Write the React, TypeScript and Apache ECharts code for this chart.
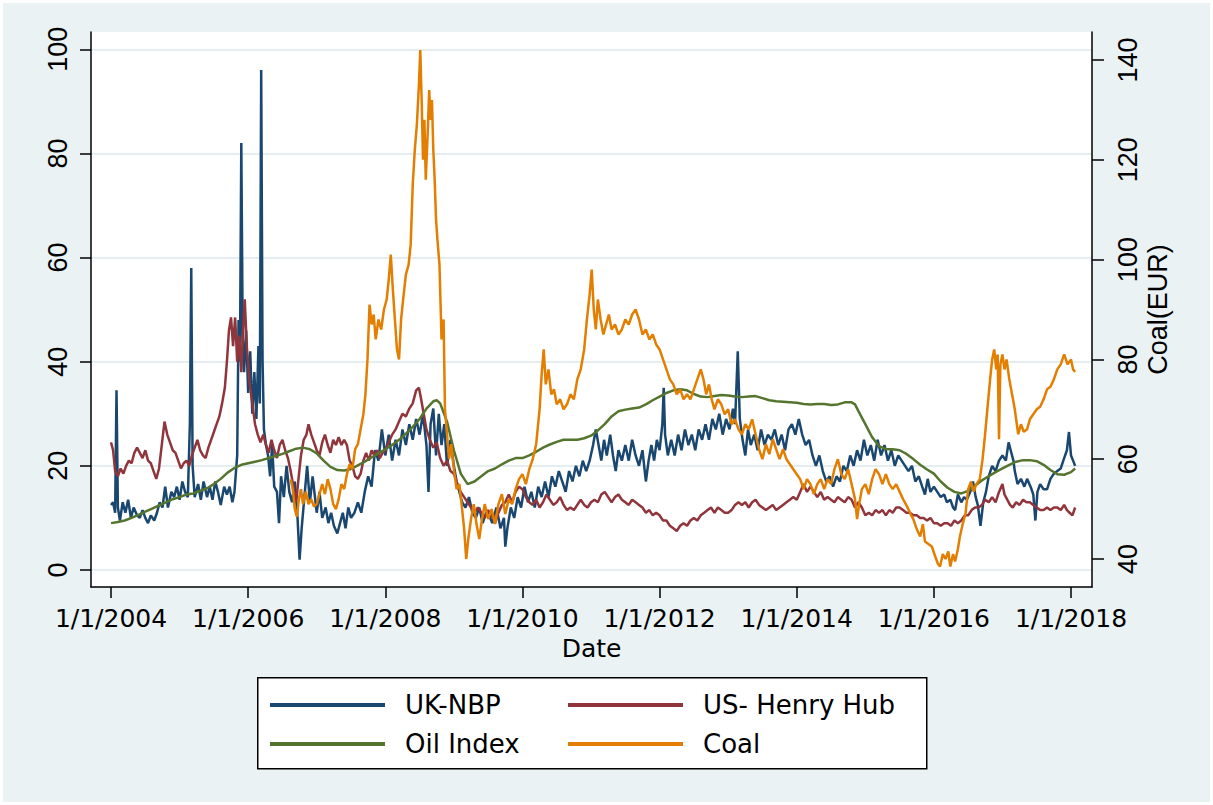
import React, { useEffect, useRef } from "react";
import * as echarts from "echarts";

const xTickYears = [2004, 2006, 2008, 2010, 2012, 2014, 2016, 2018];
const leftTicks = [0, 20, 40, 60, 80, 100];
const rightTicks = [40, 60, 80, 100, 120, 140];
const seriesNames = ["UK-NBP", "US- Henry Hub", "Oil Index", "Coal"];

const ukNbp: [number, number][] = [
  [2004.0, 12.5], [2004.03, 13], [2004.06, 11], [2004.08, 34.5], [2004.1, 12], [2004.13, 9.5], [2004.17, 13], [2004.21, 11],
  [2004.25, 13.5], [2004.29, 10], [2004.33, 12], [2004.38, 10.5], [2004.42, 10], [2004.46, 11.5], [2004.5, 10], [2004.54, 9],
  [2004.58, 10.5], [2004.63, 9.5], [2004.67, 11], [2004.71, 13], [2004.75, 12], [2004.79, 16], [2004.83, 12], [2004.88, 15],
  [2004.92, 14], [2004.96, 16], [2005.0, 13.5], [2005.04, 17], [2005.08, 15], [2005.12, 14], [2005.15, 28], [2005.17, 58],
  [2005.19, 20], [2005.22, 14], [2005.27, 16.5], [2005.31, 13.5], [2005.35, 17], [2005.4, 14], [2005.44, 16], [2005.48, 13.5],
  [2005.52, 17], [2005.56, 15], [2005.6, 12.5], [2005.65, 16], [2005.69, 14.5], [2005.73, 16], [2005.77, 13], [2005.8, 15],
  [2005.84, 22], [2005.86, 48], [2005.88, 40], [2005.9, 82], [2005.92, 45], [2005.94, 38], [2005.97, 46], [2006.0, 34],
  [2006.03, 42], [2006.06, 30], [2006.09, 38], [2006.12, 29], [2006.15, 43], [2006.17, 32], [2006.19, 96], [2006.21, 40],
  [2006.23, 27], [2006.26, 24], [2006.29, 22], [2006.32, 18], [2006.35, 24], [2006.38, 16], [2006.42, 15], [2006.45, 9],
  [2006.48, 18], [2006.52, 14], [2006.56, 20], [2006.6, 15], [2006.64, 13], [2006.68, 17], [2006.72, 10], [2006.75, 2],
  [2006.78, 8], [2006.82, 14], [2006.86, 20], [2006.9, 13], [2006.94, 18], [2007.0, 11], [2007.04, 15], [2007.08, 10],
  [2007.13, 12], [2007.17, 9], [2007.21, 11], [2007.25, 8.5], [2007.3, 7], [2007.34, 9], [2007.38, 11], [2007.42, 8],
  [2007.46, 12], [2007.5, 10], [2007.55, 11], [2007.6, 13], [2007.65, 11], [2007.7, 15], [2007.75, 18], [2007.8, 16],
  [2007.85, 23], [2007.9, 21], [2007.95, 27], [2008.0, 22], [2008.05, 26], [2008.1, 21], [2008.15, 25], [2008.2, 22],
  [2008.25, 27], [2008.3, 24], [2008.35, 28], [2008.4, 25], [2008.45, 29], [2008.5, 26], [2008.55, 30], [2008.6, 24],
  [2008.63, 15], [2008.66, 28], [2008.7, 31], [2008.74, 22], [2008.78, 30], [2008.82, 24], [2008.86, 28], [2008.9, 20],
  [2008.95, 25], [2009.0, 20], [2009.04, 17], [2009.08, 15], [2009.12, 13], [2009.17, 12], [2009.22, 14], [2009.27, 11],
  [2009.32, 10], [2009.37, 12], [2009.42, 9], [2009.47, 11], [2009.5, 11], [2009.56, 9], [2009.62, 12], [2009.68, 8],
  [2009.73, 10], [2009.75, 4.5], [2009.78, 8], [2009.83, 12], [2009.88, 10], [2009.93, 14], [2009.98, 12], [2010.03, 16],
  [2010.08, 13], [2010.13, 15], [2010.18, 12], [2010.23, 16], [2010.28, 14], [2010.33, 17], [2010.38, 14], [2010.43, 18],
  [2010.48, 16], [2010.53, 19], [2010.58, 17], [2010.63, 15], [2010.68, 19], [2010.73, 17], [2010.78, 20], [2010.83, 18],
  [2010.88, 21], [2010.93, 19], [2010.98, 21], [2011.03, 24], [2011.07, 27], [2011.11, 24], [2011.15, 21], [2011.19, 25],
  [2011.23, 22], [2011.28, 26], [2011.32, 22], [2011.36, 19], [2011.4, 23], [2011.45, 21], [2011.5, 24], [2011.55, 21],
  [2011.6, 25], [2011.65, 22], [2011.7, 20], [2011.75, 23], [2011.8, 17], [2011.84, 21], [2011.88, 24], [2011.92, 21],
  [2011.96, 25], [2012.0, 23], [2012.04, 28], [2012.06, 35], [2012.08, 26], [2012.12, 22], [2012.17, 25], [2012.22, 22],
  [2012.27, 26], [2012.32, 23], [2012.37, 27], [2012.42, 24], [2012.47, 26], [2012.52, 23], [2012.57, 27], [2012.62, 25],
  [2012.67, 28], [2012.72, 25], [2012.77, 29], [2012.82, 27], [2012.87, 30], [2012.92, 26], [2012.97, 29], [2013.02, 27],
  [2013.07, 31], [2013.1, 28], [2013.14, 42], [2013.17, 29], [2013.21, 25], [2013.25, 22], [2013.29, 27], [2013.33, 24],
  [2013.38, 26], [2013.43, 23], [2013.48, 27], [2013.53, 24], [2013.58, 26], [2013.63, 25], [2013.68, 27], [2013.73, 24],
  [2013.78, 26], [2013.83, 23], [2013.88, 27], [2013.93, 28], [2013.98, 26], [2014.03, 29], [2014.08, 26], [2014.13, 24],
  [2014.18, 25], [2014.23, 22], [2014.28, 20], [2014.33, 22], [2014.38, 19], [2014.43, 17], [2014.48, 18], [2014.53, 16],
  [2014.58, 18], [2014.63, 17], [2014.68, 20], [2014.73, 19], [2014.78, 22], [2014.83, 20], [2014.88, 23], [2014.93, 21],
  [2014.98, 25], [2015.03, 22], [2015.08, 24], [2015.13, 21], [2015.18, 25], [2015.23, 22], [2015.28, 24], [2015.33, 21],
  [2015.38, 23], [2015.43, 20], [2015.48, 22], [2015.53, 21], [2015.58, 20], [2015.63, 19], [2015.68, 20], [2015.73, 17],
  [2015.78, 18], [2015.83, 16], [2015.87, 14.5], [2015.91, 17.5], [2015.95, 15], [2016.0, 16], [2016.05, 15], [2016.1, 14],
  [2016.15, 14.5], [2016.19, 13], [2016.24, 13.5], [2016.28, 12], [2016.31, 11.5], [2016.35, 14.5], [2016.4, 13], [2016.44, 14],
  [2016.48, 13.5], [2016.53, 15], [2016.57, 17], [2016.61, 14], [2016.64, 12.5], [2016.68, 8.5], [2016.72, 13], [2016.76, 15],
  [2016.8, 18], [2016.85, 20], [2016.9, 19], [2016.95, 21], [2017.0, 22], [2017.05, 21], [2017.09, 24.5], [2017.12, 23],
  [2017.16, 21], [2017.18, 19], [2017.22, 16.5], [2017.27, 17.5], [2017.32, 16], [2017.36, 17.5], [2017.41, 16], [2017.45, 14.5],
  [2017.48, 9.5], [2017.51, 15], [2017.55, 16.5], [2017.6, 15.5], [2017.65, 15.5], [2017.7, 17.5], [2017.75, 18.5], [2017.8, 19],
  [2017.85, 19.5], [2017.9, 21.5], [2017.94, 23], [2017.97, 26.5], [2018.0, 22], [2018.03, 21], [2018.06, 20],
];

const henryHub: [number, number][] = [
  [2004.0, 24.5], [2004.03, 23], [2004.06, 19], [2004.1, 18], [2004.14, 19.5], [2004.18, 18.5], [2004.22, 20], [2004.26, 21],
  [2004.3, 20.5], [2004.34, 22.5], [2004.38, 23.5], [2004.42, 22.5], [2004.46, 21.5], [2004.5, 23], [2004.54, 21], [2004.58, 20.5],
  [2004.62, 19], [2004.66, 17.5], [2004.7, 19.5], [2004.74, 24], [2004.78, 28.5], [2004.82, 26], [2004.86, 24.5], [2004.9, 23],
  [2004.94, 22.5], [2004.98, 21], [2005.02, 19.5], [2005.06, 20.5], [2005.1, 21], [2005.14, 20], [2005.18, 22], [2005.22, 23.5],
  [2005.26, 25], [2005.3, 23], [2005.34, 22], [2005.38, 21.5], [2005.42, 23.5], [2005.46, 25], [2005.5, 26.5], [2005.54, 28],
  [2005.58, 29.5], [2005.62, 32], [2005.66, 35], [2005.69, 40], [2005.72, 46], [2005.75, 48.5], [2005.78, 43], [2005.81, 48.5],
  [2005.84, 40], [2005.87, 45], [2005.9, 38], [2005.93, 47], [2005.95, 52], [2005.98, 43], [2006.02, 36], [2006.06, 32],
  [2006.1, 28], [2006.14, 26], [2006.18, 24.5], [2006.22, 26], [2006.26, 24], [2006.3, 22.5], [2006.34, 25], [2006.38, 23],
  [2006.42, 21.5], [2006.46, 24], [2006.5, 25], [2006.54, 23], [2006.58, 21.5], [2006.62, 19], [2006.66, 16], [2006.7, 13],
  [2006.73, 17], [2006.77, 22], [2006.81, 25], [2006.85, 26], [2006.88, 28], [2006.92, 26], [2006.96, 24.5], [2007.0, 23],
  [2007.04, 22], [2007.08, 24.5], [2007.12, 26], [2007.16, 24], [2007.2, 22.5], [2007.24, 25], [2007.28, 24], [2007.32, 25.5],
  [2007.36, 24], [2007.4, 25], [2007.44, 24], [2007.48, 21], [2007.52, 20], [2007.56, 18], [2007.6, 17.5], [2007.64, 18.5],
  [2007.68, 21], [2007.72, 22.5], [2007.76, 21], [2007.8, 23], [2007.84, 22], [2007.88, 23], [2007.92, 21.5], [2007.96, 22.5],
  [2008.0, 23], [2008.05, 24.5], [2008.1, 26], [2008.15, 27], [2008.2, 28.5], [2008.25, 30], [2008.3, 29.5], [2008.35, 31],
  [2008.4, 32], [2008.45, 34.5], [2008.49, 35], [2008.52, 33], [2008.56, 30], [2008.6, 27], [2008.65, 25], [2008.7, 23.5],
  [2008.75, 24.5], [2008.8, 21.5], [2008.85, 20], [2008.9, 21], [2008.95, 19], [2009.0, 18.5], [2009.05, 16.5], [2009.1, 15],
  [2009.15, 14], [2009.2, 13], [2009.25, 12], [2009.3, 11], [2009.35, 12], [2009.4, 11], [2009.45, 10], [2009.5, 11.5],
  [2009.55, 10.5], [2009.6, 9], [2009.65, 11], [2009.7, 12.5], [2009.75, 13], [2009.8, 14.5], [2009.85, 13], [2009.9, 15],
  [2009.95, 16], [2010.0, 15.5], [2010.05, 14], [2010.1, 13], [2010.15, 12.5], [2010.2, 13.5], [2010.25, 12], [2010.3, 13],
  [2010.35, 14.5], [2010.4, 13.5], [2010.45, 12.5], [2010.5, 13], [2010.55, 14], [2010.6, 12.5], [2010.65, 11.5], [2010.7, 12],
  [2010.75, 11.5], [2010.8, 12.5], [2010.85, 13.5], [2010.9, 12.5], [2010.95, 12], [2011.0, 13], [2011.05, 13.5], [2011.1, 13],
  [2011.15, 14.5], [2011.2, 15], [2011.25, 14], [2011.3, 13], [2011.35, 14], [2011.4, 14.5], [2011.45, 13.5], [2011.5, 13],
  [2011.55, 12.5], [2011.6, 13.5], [2011.65, 13], [2011.7, 12.5], [2011.75, 12], [2011.8, 11], [2011.85, 11.5], [2011.9, 10.5],
  [2011.95, 11], [2012.0, 10.5], [2012.05, 9.5], [2012.1, 9.5], [2012.15, 8.5], [2012.2, 8], [2012.25, 7.5], [2012.3, 8.5],
  [2012.35, 9], [2012.4, 8.5], [2012.45, 9.5], [2012.5, 10], [2012.55, 9.5], [2012.6, 10.5], [2012.65, 11], [2012.7, 11.5],
  [2012.75, 12], [2012.8, 11], [2012.85, 12], [2012.9, 11.5], [2012.95, 11], [2013.0, 11], [2013.05, 11.5], [2013.1, 12.5],
  [2013.15, 13], [2013.2, 12.5], [2013.25, 13], [2013.3, 12], [2013.35, 13], [2013.4, 13.5], [2013.45, 12.5], [2013.5, 12],
  [2013.55, 11.5], [2013.6, 12], [2013.65, 12.5], [2013.7, 11.5], [2013.75, 12], [2013.8, 12.5], [2013.85, 13], [2013.9, 13.5],
  [2013.95, 14], [2014.0, 13.5], [2014.05, 15], [2014.1, 16.5], [2014.15, 15], [2014.2, 16], [2014.25, 15], [2014.3, 14],
  [2014.35, 15], [2014.4, 13.5], [2014.45, 14], [2014.5, 13.5], [2014.55, 13], [2014.6, 14], [2014.65, 13.5], [2014.7, 13],
  [2014.75, 14], [2014.8, 13.5], [2014.85, 12], [2014.9, 13], [2014.95, 12], [2015.0, 10.5], [2015.05, 11], [2015.1, 10.5],
  [2015.15, 11.5], [2015.2, 11], [2015.25, 11.5], [2015.3, 10.5], [2015.35, 11.5], [2015.4, 11], [2015.45, 12], [2015.5, 12],
  [2015.55, 11.5], [2015.6, 11], [2015.65, 11], [2015.7, 10.5], [2015.75, 10.5], [2015.8, 10], [2015.85, 10], [2015.9, 9.5],
  [2015.95, 10], [2016.0, 9], [2016.05, 9], [2016.1, 8.5], [2016.15, 9], [2016.2, 9], [2016.25, 8.5], [2016.3, 9.5],
  [2016.35, 9], [2016.4, 9.5], [2016.45, 10.5], [2016.5, 10.5], [2016.55, 11.5], [2016.6, 12], [2016.65, 12], [2016.7, 12.5],
  [2016.75, 13.5], [2016.8, 13], [2016.85, 14], [2016.9, 13], [2016.95, 15], [2017.0, 16.5], [2017.03, 14.5], [2017.07, 13.5],
  [2017.11, 12.5], [2017.15, 12], [2017.2, 13], [2017.25, 12.5], [2017.3, 13.5], [2017.35, 13], [2017.4, 13], [2017.45, 12.5],
  [2017.5, 12], [2017.55, 11.5], [2017.6, 11.5], [2017.65, 12], [2017.7, 11.5], [2017.75, 12], [2017.8, 12], [2017.85, 11.5],
  [2017.9, 12.5], [2017.94, 11.5], [2017.98, 11], [2018.02, 10.5], [2018.06, 12],
];

const oilIndex: [number, number][] = [
  [2004.0, 9], [2004.1, 9.2], [2004.2, 9.5], [2004.3, 10], [2004.4, 10.6], [2004.5, 11.2], [2004.6, 11.8], [2004.7, 12.4],
  [2004.8, 13], [2004.9, 13.6], [2005.0, 14], [2005.1, 14.5], [2005.2, 14.7], [2005.3, 15.2], [2005.4, 15.7], [2005.5, 16.5],
  [2005.6, 17.5], [2005.7, 18.7], [2005.8, 19.6], [2005.9, 20.2], [2006.0, 20.5], [2006.1, 20.8], [2006.2, 21.1], [2006.3, 21.5],
  [2006.4, 21.9], [2006.5, 22.3], [2006.6, 22.8], [2006.7, 23.3], [2006.8, 23.5], [2006.9, 23.2], [2007.0, 22.4], [2007.1, 21],
  [2007.2, 19.8], [2007.3, 19.2], [2007.4, 19.1], [2007.5, 19.4], [2007.6, 20.1], [2007.7, 20.8], [2007.8, 21.6], [2007.9, 22.4],
  [2008.0, 23.2], [2008.1, 24], [2008.2, 25], [2008.3, 26.2], [2008.4, 27.5], [2008.5, 29], [2008.6, 31], [2008.7, 32.4],
  [2008.75, 32.6], [2008.8, 32], [2008.9, 28.5], [2009.0, 23], [2009.1, 18.5], [2009.2, 16.5], [2009.3, 17], [2009.4, 18],
  [2009.5, 19], [2009.6, 19.5], [2009.7, 20.3], [2009.8, 21], [2009.9, 21.5], [2010.0, 21.5], [2010.1, 22], [2010.2, 22.7],
  [2010.3, 23.5], [2010.4, 24.1], [2010.5, 24.6], [2010.6, 25], [2010.7, 25], [2010.8, 25], [2010.9, 25.3], [2011.0, 25.8],
  [2011.1, 26.8], [2011.2, 28], [2011.3, 29.5], [2011.4, 30.5], [2011.5, 30.8], [2011.6, 31], [2011.7, 31.2], [2011.8, 31.8],
  [2011.9, 32.6], [2012.0, 33.3], [2012.1, 34], [2012.2, 34.5], [2012.3, 34.7], [2012.4, 34.5], [2012.5, 33.8], [2012.6, 33.3],
  [2012.7, 33.2], [2012.8, 33.4], [2012.9, 33.6], [2013.0, 33.5], [2013.1, 33.3], [2013.2, 33.2], [2013.3, 33.3], [2013.4, 33.4],
  [2013.5, 33], [2013.6, 32.6], [2013.7, 32.4], [2013.8, 32.3], [2013.9, 32.2], [2014.0, 32.1], [2014.1, 31.9], [2014.2, 31.8],
  [2014.3, 31.9], [2014.4, 31.9], [2014.5, 31.7], [2014.6, 31.8], [2014.7, 32.2], [2014.8, 32.2], [2014.85, 31.8], [2014.9, 30.5],
  [2015.0, 28], [2015.1, 25.5], [2015.2, 23.8], [2015.3, 23.2], [2015.4, 23.2], [2015.5, 23], [2015.6, 22.3], [2015.7, 21.3],
  [2015.8, 20.2], [2015.9, 19.3], [2016.0, 18.5], [2016.1, 17], [2016.2, 15.8], [2016.3, 15], [2016.4, 14.7], [2016.5, 15.2],
  [2016.6, 16.2], [2016.7, 17.2], [2016.8, 18], [2016.9, 18.8], [2017.0, 19.5], [2017.1, 20.2], [2017.2, 20.8], [2017.3, 21.1],
  [2017.4, 21.1], [2017.5, 20.9], [2017.6, 20.2], [2017.7, 19.2], [2017.8, 18.4], [2017.9, 18.3], [2018.0, 18.8], [2018.06, 19.5],
];

const coal: [number, number][] = [
  [2006.62, 56], [2006.65, 54], [2006.68, 50], [2006.71, 48.5], [2006.74, 52], [2006.77, 54], [2006.8, 51], [2006.84, 53.5],
  [2006.88, 51], [2006.92, 52], [2006.96, 50.5], [2007.0, 51], [2007.04, 53], [2007.08, 55], [2007.12, 53], [2007.16, 56],
  [2007.2, 54], [2007.24, 51], [2007.28, 50], [2007.32, 52], [2007.36, 55], [2007.4, 54], [2007.44, 57], [2007.48, 59],
  [2007.52, 58], [2007.56, 62], [2007.6, 63], [2007.64, 66], [2007.68, 69], [2007.71, 73], [2007.74, 80], [2007.77, 91],
  [2007.8, 87], [2007.83, 89], [2007.86, 84], [2007.9, 88], [2007.94, 86], [2007.98, 90], [2008.02, 92], [2008.05, 96],
  [2008.08, 101], [2008.11, 94], [2008.14, 88], [2008.17, 82], [2008.2, 80], [2008.23, 88], [2008.26, 92], [2008.3, 97],
  [2008.34, 99], [2008.37, 103], [2008.4, 115], [2008.43, 122], [2008.46, 127], [2008.49, 135], [2008.51, 142], [2008.53, 132],
  [2008.55, 120], [2008.57, 128], [2008.59, 116], [2008.62, 126], [2008.64, 134], [2008.66, 128], [2008.68, 132], [2008.7, 122],
  [2008.72, 116], [2008.74, 108], [2008.76, 104], [2008.79, 99], [2008.82, 84], [2008.85, 88], [2008.87, 70], [2008.9, 65],
  [2008.93, 60], [2008.96, 63], [2009.0, 58], [2009.04, 54], [2009.08, 55], [2009.12, 50], [2009.15, 46], [2009.18, 40],
  [2009.21, 44], [2009.25, 48], [2009.29, 51], [2009.33, 47], [2009.37, 44], [2009.41, 48], [2009.45, 51], [2009.5, 48],
  [2009.55, 50], [2009.6, 47], [2009.65, 51], [2009.7, 53], [2009.75, 49], [2009.8, 52], [2009.85, 51], [2009.9, 54],
  [2009.95, 56], [2010.0, 57], [2010.05, 55], [2010.1, 58], [2010.15, 60], [2010.2, 63], [2010.25, 70], [2010.28, 77],
  [2010.31, 82], [2010.34, 75], [2010.38, 78], [2010.42, 73], [2010.46, 74], [2010.5, 71], [2010.55, 72], [2010.6, 70],
  [2010.65, 71], [2010.7, 73], [2010.75, 72], [2010.8, 76], [2010.85, 78], [2010.9, 82], [2010.94, 88], [2010.98, 93],
  [2011.01, 98], [2011.04, 90], [2011.07, 86], [2011.1, 92], [2011.14, 88], [2011.18, 85], [2011.22, 87], [2011.26, 89],
  [2011.3, 86], [2011.35, 87], [2011.4, 85], [2011.45, 86], [2011.5, 88], [2011.55, 87], [2011.6, 89], [2011.65, 90],
  [2011.7, 88], [2011.75, 85], [2011.8, 86], [2011.85, 84], [2011.9, 85], [2011.95, 83], [2012.0, 82], [2012.05, 80],
  [2012.1, 78], [2012.15, 76], [2012.2, 75], [2012.25, 73], [2012.3, 74], [2012.35, 72], [2012.4, 73], [2012.45, 72],
  [2012.5, 74], [2012.55, 76], [2012.6, 78], [2012.64, 76], [2012.68, 73], [2012.72, 75], [2012.76, 72], [2012.8, 70],
  [2012.85, 72], [2012.9, 71], [2012.95, 69], [2013.0, 70], [2013.05, 67], [2013.1, 68], [2013.15, 66], [2013.2, 65],
  [2013.25, 67], [2013.3, 66], [2013.35, 68], [2013.4, 65], [2013.45, 62], [2013.5, 60], [2013.55, 63], [2013.6, 61],
  [2013.65, 64], [2013.7, 62], [2013.75, 60], [2013.8, 62], [2013.85, 60], [2013.9, 59], [2013.95, 58], [2014.0, 57],
  [2014.05, 56], [2014.1, 54], [2014.15, 56], [2014.2, 55], [2014.25, 53], [2014.3, 55], [2014.35, 56], [2014.4, 54],
  [2014.45, 56], [2014.5, 55], [2014.55, 58], [2014.6, 60], [2014.65, 57], [2014.7, 56], [2014.75, 58], [2014.8, 55],
  [2014.85, 52], [2014.88, 48], [2014.91, 51], [2014.95, 54], [2015.0, 55], [2015.05, 53], [2015.1, 56], [2015.15, 58],
  [2015.2, 57], [2015.25, 55], [2015.3, 57], [2015.35, 55], [2015.4, 54], [2015.45, 55], [2015.5, 53.5], [2015.55, 52],
  [2015.61, 50.5], [2015.66, 49], [2015.7, 48], [2015.75, 46], [2015.8, 44.5], [2015.84, 47], [2015.87, 43.5], [2015.92, 43],
  [2015.97, 42.5], [2016.02, 40.5], [2016.06, 39], [2016.09, 38.5], [2016.13, 41], [2016.17, 40], [2016.21, 41.5], [2016.24, 38.5],
  [2016.28, 41], [2016.31, 39.5], [2016.35, 42], [2016.38, 44.5], [2016.42, 47], [2016.46, 49], [2016.5, 54], [2016.54, 55.5],
  [2016.58, 53.5], [2016.62, 55], [2016.67, 56], [2016.71, 60], [2016.74, 64], [2016.78, 70], [2016.82, 76], [2016.85, 80],
  [2016.88, 82], [2016.91, 78], [2016.93, 81], [2016.95, 64], [2016.97, 79], [2017.0, 81], [2017.03, 78], [2017.06, 80],
  [2017.1, 76], [2017.14, 73], [2017.18, 70], [2017.23, 65], [2017.27, 67], [2017.31, 65.5], [2017.36, 66], [2017.4, 68],
  [2017.45, 69], [2017.5, 70], [2017.55, 70.5], [2017.6, 72], [2017.65, 74], [2017.7, 74.5], [2017.75, 76], [2017.8, 78],
  [2017.85, 79], [2017.9, 81], [2017.95, 79], [2018.0, 80], [2018.03, 78], [2018.06, 77.5],
];

const seriesData = [ukNbp, henryHub, oilIndex, coal];
const seriesColors = ["#1A476F", "#90353B", "#55752F", "#E37E00"];
const seriesAxis = [0, 0, 0, 1];

const H_FONT = "DejaVu Sans";
const V_FONT = "Liberation Sans";

export default function App() {
  const ref = useRef<HTMLDivElement>(null);
  useEffect(() => {
    if (!ref.current) return;
    const chart = echarts.init(ref.current, null, { renderer: "svg" });
    const axisLineStyle = { color: "#000", width: 1.5 };
    const legendCommon = {
      orient: "vertical" as const,
      top: 687,
      itemWidth: 115,
      itemHeight: 4,
      itemGap: 9,
      icon: "rect",
      padding: 0,
      selectedMode: false,
      textStyle: {
        fontFamily: H_FONT,
        fontSize: 26,
        color: "#000",
        lineHeight: 30,
        padding: [0, 0, 0, 15],
      },
    };
    chart.setOption({
      animation: false,
      backgroundColor: "#EAF2F3",
      grid: {
        left: 88,
        top: 29,
        right: 118,
        bottom: 215,
        show: true,
        backgroundColor: "#ffffff",
        borderWidth: 0,
        containLabel: false,
      },
      graphic: [
        {
          type: "rect",
          left: 254,
          top: 674,
          shape: { width: 669, height: 91 },
          style: { fill: "#ffffff", stroke: "#000", lineWidth: 1.5 },
          z: -1,
        },
      ],
      legend: [
        { ...legendCommon, left: 267, data: [seriesNames[0], seriesNames[2]] },
        { ...legendCommon, left: 565, data: [seriesNames[1], seriesNames[3]] },
      ],
      xAxis: {
        type: "value",
        min: 2003.708,
        max: 2018.306,
        axisLine: { show: true, onZero: false, lineStyle: axisLineStyle },
        axisTick: { show: true, length: 11, customValues: xTickYears, lineStyle: axisLineStyle },
        axisLabel: {
          customValues: xTickYears,
          formatter: (v: number) => "1/1/" + Math.round(v),
          margin: 19,
          fontFamily: H_FONT,
          fontSize: 25,
          color: "#000",
        },
        splitLine: { show: false },
        name: "Date",
        nameLocation: "middle",
        nameGap: 44,
        nameTextStyle: { fontFamily: H_FONT, fontSize: 25, color: "#000" },
      },
      yAxis: [
        {
          type: "value",
          position: "left",
          min: -3.265,
          max: 103.32,
          axisLine: { show: true, lineStyle: axisLineStyle },
          axisTick: { show: true, length: 11, customValues: leftTicks, lineStyle: axisLineStyle },
          axisLabel: {
            customValues: leftTicks,
            rotate: 90,
            margin: 20,
            fontFamily: V_FONT,
            fontSize: 27,
            color: "#000",
          },
          splitLine: { show: true, lineStyle: { color: "#E4EDEF", width: 2 } },
        },
        {
          type: "value",
          position: "right",
          min: 34.39,
          max: 145.61,
          axisLine: { show: true, lineStyle: axisLineStyle },
          axisTick: { show: true, length: 12, customValues: rightTicks, lineStyle: axisLineStyle },
          axisLabel: {
            customValues: rightTicks,
            rotate: 90,
            margin: 22,
            fontFamily: V_FONT,
            fontSize: 27,
            color: "#000",
          },
          splitLine: { show: false },
          name: "Coal(EUR)",
          nameLocation: "middle",
          nameRotate: 90,
          nameGap: 52,
          nameMoveOverlap: false,
          nameTextStyle: { fontFamily: V_FONT, fontSize: 27, color: "#000" },
        },
      ],
      series: seriesNames.map((name, i) => ({
        name,
        type: "line",
        yAxisIndex: seriesAxis[i],
        data: seriesData[i],
        showSymbol: false,
        symbol: "none",
        color: seriesColors[i],
        lineStyle: { color: seriesColors[i], width: 2.5 },
        emphasis: { disabled: true },
      })),
    });
    return () => chart.dispose();
  }, []);
  return (
    <div style={{ position: "fixed", left: 0, top: 0, width: 1213, height: 805, background: "#fff" }}>
      <div ref={ref} style={{ position: "absolute", left: 3, top: 3, width: 1207, height: 799 }} />
    </div>
  );
}
